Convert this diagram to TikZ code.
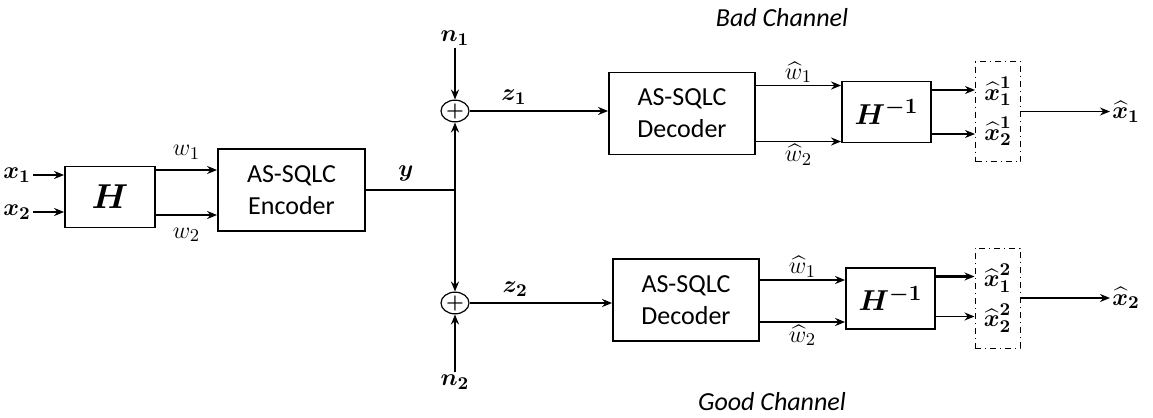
\documentclass[tikz,border=0pt]{standalone}
\usepackage{fontspec}
\setsansfont{Carlito}
\usepackage{amsmath}
\usepackage{bm}
\usetikzlibrary{arrows.meta, positioning, calc, shapes.geometric}

\begin{document}
\begin{tikzpicture}[
    x=0.5pt, y=-0.5pt,
    font=\fontsize{13}{16}\selectfont,
    bloque/.style={draw, line width=0.9pt, align=center, inner sep=0pt,
                   font=\sffamily\fontsize{13}{16}\selectfont},
    selbox/.style={draw, line width=0.5pt, dash dot, minimum width=22.5pt,
                   minimum height=50pt, inner sep=0pt, align=center,
                   font=\fontsize{13}{16}\selectfont},
    sumador/.style={draw, ellipse, line width=0.6pt, minimum width=14pt,
                    minimum height=10pt, inner sep=0pt,
                    font=\fontsize{10}{10}\selectfont},
    flecha/.style={-{Stealth[length=5pt, width=4pt]}, line width=0.9pt},
    etiq/.style={inner sep=1pt},
    canal/.style={font=\sffamily\itshape\fontsize{13}{16}\selectfont}
  ]

  \useasboundingbox (0,0) rectangle (1153,418);

  % --- Bloques ---
  \node[bloque, minimum width=45pt, minimum height=30.5pt,
        font=\fontsize{19}{19}\selectfont] (hmat) at (110,197) {$\bm{H}$};
  \node[bloque, minimum width=73.5pt, minimum height=41pt] (enc) at (291.5,190)
        {AS-SQLC\\Encoder};
  \node[bloque, minimum width=73pt, minimum height=41pt] (dec1) at (682,113.5)
        {AS-SQLC\\Decoder};
  \node[bloque, minimum width=73pt, minimum height=41pt] (dec2) at (686,300)
        {AS-SQLC\\Decoder};
  \node[bloque, minimum width=44.5pt, minimum height=30.5pt,
        font=\fontsize{15}{15}\selectfont] (hinv1) at (886.5,112) {$\bm{H^{-1}}$};
  \node[bloque, minimum width=44.5pt, minimum height=30.5pt,
        font=\fontsize{15}{15}\selectfont] (hinv2) at (890.5,298.5) {$\bm{H^{-1}}$};
  \node[selbox] (sel1) at (998,111.5)
        {$\bm{{\widehat{x}}^1_1}$\\[4pt]$\bm{{\widehat{x}}^1_2}$};
  \node[selbox] (sel2) at (997.5,298)
        {$\bm{{\widehat{x}}^2_1}$\\[4pt]$\bm{{\widehat{x}}^2_2}$};
  \node[sumador] (add1) at (455,111) {$\bm{+}$};
  \node[sumador] (add2) at (455,303) {$\bm{+}$};
  \coordinate (jn) at (455,190);

  % --- Etiquetas ---
  \node[etiq] (x1) at (17,175) {$\bm{x_1}$};
  \node[etiq] (x2) at (17,212) {$\bm{x_2}$};
  \node[etiq] (n1) at (455,38) {$\bm{n_1}$};
  \node[etiq] (n2) at (455,382) {$\bm{n_2}$};
  \node[etiq, anchor=west] (xh1) at (1110,111.5) {$\bm{\widehat{x}_1}$};
  \node[etiq, anchor=west] (xh2) at (1110,298) {$\bm{\widehat{x}_2}$};
  \node[canal] (bad) at (782,18) {Bad Channel};
  \node[canal] (good) at (772,402) {Good Channel};

  % --- Conexiones ---
  \draw[flecha] (x1) -- (x1 -| hmat.west);
  \draw[flecha] (x2) -- (x2 -| hmat.west);
  \draw[flecha] ([yshift=13.5pt]hmat.east) -- node[etiq, above=4pt]{$w_1$}
                ([yshift=13.5pt]hmat.east -| enc.west);
  \draw[flecha] ([yshift=-9pt]hmat.east) -- node[etiq, below=5pt]{$w_2$}
                ([yshift=-9pt]hmat.east -| enc.west);
  \draw[line width=0.9pt] (enc.east) -- node[etiq, above=3pt, pos=0.45]{$\bm{y}$} (jn);
  \draw[flecha] (jn) -- (add1.south);
  \draw[flecha] (jn) -- (add2.north);
  \draw[flecha, line width=1.2pt] (n1) -- (add1.north);
  \draw[flecha, line width=1.2pt] (n2) -- (add2.south);
  \draw[flecha] (add1.east) -- node[etiq, above=2pt, pos=0.32]{$\bm{z_1}$}
                (add1.east -| dec1.west);
  \draw[flecha] (add2.east) -- node[etiq, above=2pt, pos=0.32]{$\bm{z_2}$}
                (add2.east -| dec2.west);

  \draw[flecha] ([yshift=14pt]dec1.east) -- node[etiq, above]{$\widehat{w}_1$}
                ([yshift=14pt]dec1.east -| hinv1.west);
  \draw[flecha] ([yshift=-14pt]dec1.east) -- node[etiq, below]{$\widehat{w}_2$}
                ([yshift=-14pt]dec1.east -| hinv1.west);
  \draw[flecha] ([yshift=10pt]dec2.east) -- node[etiq, above]{$\widehat{w}_1$}
                ([yshift=10pt]dec2.east -| hinv2.west);
  \draw[flecha] ([yshift=-11pt]dec2.east) -- node[etiq, below]{$\widehat{w}_2$}
                ([yshift=-11pt]dec2.east -| hinv2.west);

  \draw[flecha, line width=1.2pt] ([yshift=11pt]hinv1.east) -- ([yshift=11pt]hinv1.east -| sel1.west);
  \draw[flecha] ([yshift=-11pt]hinv1.east) -- ([yshift=-11pt]hinv1.east -| sel1.west);
  \draw[flecha, line width=1.2pt] ([yshift=11pt]hinv2.east) -- ([yshift=11pt]hinv2.east -| sel2.west);
  \draw[flecha] ([yshift=-9pt]hinv2.east) -- ([yshift=-9pt]hinv2.east -| sel2.west);

  \draw[flecha] (sel1.east) -- (xh1.west);
  \draw[flecha] (sel2.east) -- (xh2.west);

\end{tikzpicture}
\end{document}
